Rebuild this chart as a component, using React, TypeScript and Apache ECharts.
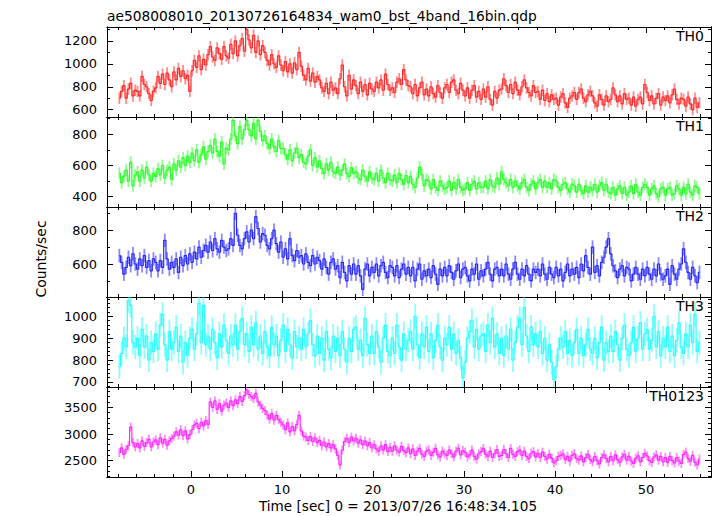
import React, { useEffect, useRef } from "react";
import * as echarts from "echarts";

const TITLE = "ae508008010_20130726164834_wam0_bst_4band_16bin.qdp";
const X_LABEL = "Time [sec] 0 = 2013/07/26 16:48:34.105";
const Y_LABEL = "Counts/sec";
const T_START = -7.875; // centre of the first 0.25 s bin
const BIN = 0.25;
const X_MIN = -9.23;
const X_MAX = 57.14;

const bandNames = ["TH0", "TH1", "TH2", "TH3", "TH0123"];
const bandColors = ["#ff2a2a", "#2aff2a", "#2a2aff", "#2affff", "#ff2aff"];
const errHalf = [50, 38, 40, 55, 85];
const yRanges = [
  [536, 1322],
  [334, 911],
  [405, 937],
  [677, 1088],
  [2195, 3880],
];
const yMajor = [
  [600, 800, 1000, 1200],
  [400, 600, 800],
  [600, 800],
  [700, 800, 900, 1000],
  [2500, 3000, 3500],
];
const yMinor = [
  [700, 900, 1100, 1300],
  [500, 700, 900],
  [500, 700, 900],
  [680, 720, 740, 760, 780, 820, 840, 860, 880, 920, 940, 960, 980, 1020, 1040, 1060, 1080],
  [2200, 2300, 2400, 2600, 2700, 2800, 2900, 3100, 3200, 3300, 3400, 3600, 3700, 3800],
];
const xMajor = [0, 10, 20, 30, 40, 50];
const xMinor = [-8, -6, -4, -2, 2, 4, 6, 8, 12, 14, 16, 18, 22, 24, 26, 28, 32, 34, 36, 38, 42, 44, 46, 48, 52, 54, 56];

const th0 = [
  700, 760, 810, 700, 780, 830, 720, 770,
  760, 720, 890, 820, 800, 740, 680, 760,
  790, 890, 830, 910, 820, 920, 860, 800,
  930, 860, 960, 890, 940, 870, 900, 760,
  940, 1030, 970, 1070, 950, 1040, 990, 1080,
  1150, 1060, 1030, 1140, 1090, 1040, 1150, 1070,
  1050, 1170, 1090, 1200, 1070, 1160, 1220, 1110,
  1300, 1210, 1140, 1250, 1100, 1200, 1080, 1160,
  1100, 1030, 990, 1080, 1000, 970, 1070, 990,
  940, 1020, 930, 1000, 920, 1010, 950, 1100,
  980, 900, 860, 960, 850, 920, 840, 890,
  860, 790, 760, 830, 740, 840, 770, 790,
  740, 870, 990, 800, 720, 900, 780, 860,
  810, 740, 840, 760, 820, 730, 830, 780,
  760, 840, 790, 860, 770, 910, 820, 770,
  790, 750, 840, 870, 820, 950, 860, 810,
  800, 740, 820, 720, 790, 840, 730, 780,
  720, 800, 740, 710, 810, 750, 700, 790,
  820, 750, 840, 860, 770, 740, 830, 770,
  720, 790, 700, 770, 810, 710, 760, 690,
  780, 710, 800, 690, 640, 760, 700, 770,
  780, 870, 810, 750, 820, 740, 840, 770,
  730, 800, 860, 790, 750, 720, 810, 750,
  760, 690, 770, 680, 740, 670, 730, 690,
  700, 640, 710, 740, 660, 620, 700, 720,
  750, 690, 750, 780, 700, 670, 730, 760,
  720, 660, 630, 730, 690, 640, 720, 670,
  690, 790, 730, 670, 720, 650, 740, 690,
  700, 640, 710, 630, 690, 710, 650, 820,
  750, 680, 720, 650, 700, 740, 640, 710,
  680, 720, 660, 730, 780, 690, 650, 700,
  690, 630, 710, 650, 600, 700, 620, 660,
];

const th1 = [
  550, 490, 530, 570, 500, 620, 470, 540,
  560, 500, 570, 520, 590, 540, 500, 550,
  530, 580, 540, 600, 520, 570, 590, 510,
  610, 570, 630, 590, 650, 600, 660, 620,
  680, 630, 700, 620, 670, 720, 640, 690,
  730, 680, 770, 690, 660, 750, 610, 710,
  700, 770, 890, 790, 740, 850, 770, 830,
  890, 830, 790, 870, 770, 890, 820, 760,
  790, 740, 710, 770, 720, 690, 760, 710,
  710, 670, 640, 700, 630, 680, 710, 650,
  670, 620, 610, 660, 700, 600, 650, 590,
  630, 580, 550, 610, 570, 620, 560, 550,
  590, 540, 570, 610, 550, 530, 585, 550,
  560, 520, 510, 570, 530, 500, 560, 520,
  510, 550, 500, 570, 520, 490, 550, 510,
  500, 540, 490, 550, 510, 480, 535, 490,
  530, 480, 460, 520, 590, 540, 470, 510,
  500, 450, 510, 460, 440, 500, 470, 450,
  460, 500, 440, 490, 450, 510, 460, 440,
  450, 490, 440, 480, 500, 450, 490, 460,
  460, 500, 450, 510, 470, 460, 520, 480,
  560, 510, 490, 470, 510, 460, 500, 470,
  450, 490, 510, 460, 440, 480, 500, 450,
  490, 510, 460, 500, 460, 490, 450, 510,
  500, 460, 440, 480, 490, 450, 430, 480,
  470, 430, 480, 440, 420, 470, 430, 460,
  440, 480, 430, 470, 490, 440, 480, 430,
  420, 460, 410, 450, 470, 420, 460, 410,
  430, 470, 420, 480, 430, 410, 460, 480,
  460, 410, 450, 470, 420, 400, 450, 460,
  410, 450, 460, 410, 420, 470, 450, 410,
  460, 420, 480, 430, 410, 470, 460, 420,
];

const th2 = [
  650, 610, 540, 580, 640, 590, 660, 600,
  570, 630, 590, 650, 580, 620, 560, 630,
  610, 560, 620, 580, 740, 630, 570, 610,
  580, 630, 550, 640, 590, 650, 600, 660,
  610, 670, 630, 700, 640, 680, 710, 670,
  730, 680, 750, 690, 670, 740, 700, 680,
  690, 750, 710, 900, 770, 710, 690, 750,
  790, 730, 800, 750, 880, 810, 730, 780,
  770, 710, 690, 750, 800, 720, 670, 730,
  640, 690, 630, 750, 650, 620, 680, 640,
  650, 600, 660, 610, 590, 650, 600, 640,
  620, 570, 630, 580, 540, 610, 630, 570,
  590, 520, 610, 550, 500, 590, 540, 600,
  540, 590, 530, 450, 570, 600, 530, 580,
  550, 600, 530, 590, 610, 550, 520, 590,
  580, 530, 590, 520, 570, 600, 540, 580,
  530, 580, 500, 570, 600, 510, 560, 530,
  570, 520, 590, 540, 480, 570, 530, 580,
  530, 590, 550, 510, 560, 600, 520, 570,
  580, 530, 500, 570, 540, 600, 510, 560,
  530, 570, 610, 540, 500, 570, 580, 530,
  570, 530, 600, 540, 510, 570, 610, 540,
  510, 570, 530, 590, 540, 500, 570, 550,
  570, 530, 600, 540, 510, 580, 540, 520,
  580, 530, 570, 500, 550, 600, 530, 570,
  540, 580, 520, 600, 560, 650, 580, 540,
  700, 550, 590, 530, 610, 640, 700, 750,
  660, 590, 560, 520, 570, 590, 530, 580,
  570, 500, 540, 580, 540, 510, 570, 530,
  580, 540, 510, 570, 530, 600, 540, 510,
  530, 570, 480, 590, 540, 510, 570, 600,
  690, 610, 550, 510, 580, 530, 490, 550,
];

const th3 = [
  770, 830, 900, 860, 1070, 1050, 880, 860,
  900, 820, 940, 860, 910, 800, 880, 840,
  920, 850, 960, 1010, 870, 800, 930, 850,
  880, 950, 840, 910, 790, 880, 820, 900,
  940, 850, 920, 1060, 880, 1050, 870, 910,
  850, 940, 880, 810, 920, 860, 960, 890,
  830, 910, 870, 960, 850, 930, 990, 870,
  920, 840, 950, 870, 970, 850, 910, 830,
  930, 860, 820, 950, 870, 910, 820, 890,
  960, 840, 940, 870, 810, 930, 860, 900,
  850, 940, 860, 920, 980, 870, 820, 910,
  830, 900, 800, 930, 850, 810, 910, 840,
  900, 820, 930, 850, 790, 900, 840, 940,
  950, 850, 890, 820, 990, 870, 830, 910,
  830, 930, 860, 790, 900, 960, 840, 820,
  900, 830, 960, 860, 800, 920, 850, 890,
  930, 850, 1000, 870, 810, 920, 860, 950,
  840, 920, 810, 890, 960, 860, 800, 900,
  870, 950, 850, 920, 830, 890, 810, 720,
  790, 900, 930, 980, 860, 940, 850, 910,
  920, 840, 960, 880, 990, 860, 920, 830,
  900, 820, 910, 850, 940, 800, 880, 950,
  990, 870, 1040, 910, 840, 950, 870, 920,
  860, 930, 830, 900, 800, 870, 790, 710,
  770, 850, 900, 860, 930, 830, 890, 820,
  880, 940, 830, 900, 820, 870, 940, 850,
  830, 900, 810, 880, 950, 800, 880, 840,
  910, 840, 930, 870, 800, 900, 960, 850,
  820, 880, 950, 840, 900, 970, 850, 920,
  940, 850, 890, 1000, 860, 930, 820, 900,
  860, 950, 840, 910, 820, 890, 970, 860,
  830, 920, 860, 960, 880, 1010, 840, 880,
];

const th0123 = [
  2650, 2740, 2620, 2710, 2780, 3130, 2840, 2760,
  2820, 2740, 2870, 2770, 2840, 2900, 2760, 2850,
  2890, 2800, 2930, 2830, 2900, 2790, 2870, 2920,
  2960, 3040, 2980, 3080, 2970, 3060, 2910, 2990,
  3080, 3170, 3200, 3100, 3220, 3150, 3250, 3180,
  3600, 3500, 3620, 3460, 3570, 3430, 3540, 3580,
  3500, 3620, 3530, 3640, 3570, 3700, 3610, 3720,
  3820, 3740, 3700, 3660, 3760, 3600, 3540, 3480,
  3440, 3360, 3280, 3380, 3260, 3350, 3270, 3220,
  3170, 3080, 3210, 3040, 3140, 3060, 3180, 3350,
  3060, 2960, 2940, 2880, 2950, 2860, 2930, 2840,
  2880, 2780, 2850, 2760, 2820, 2740, 2800, 2720,
  2600, 2420, 2700, 2860, 2920, 2840, 2940, 2870,
  2920, 2830, 2890, 2800, 2870, 2780, 2840, 2740,
  2800, 2720, 2680, 2780, 2700, 2800, 2670, 2750,
  2680, 2780, 2700, 2660, 2770, 2690, 2650, 2740,
  2630, 2720, 2600, 2680, 2730, 2620, 2580, 2680,
  2700, 2600, 2660, 2730, 2610, 2570, 2680, 2630,
  2600, 2700, 2630, 2570, 2680, 2730, 2610, 2690,
  2660, 2570, 2610, 2700, 2580, 2530, 2630, 2670,
  2730, 2620, 2580, 2680, 2560, 2630, 2710, 2580,
  2600, 2710, 2630, 2560, 2730, 2620, 2580, 2670,
  2700, 2600, 2680, 2580, 2540, 2640, 2670, 2570,
  2640, 2560, 2660, 2580, 2530, 2620, 2550, 2460,
  2500, 2580, 2600, 2630, 2520, 2580, 2490, 2600,
  2630, 2540, 2510, 2590, 2480, 2560, 2620, 2520,
  2480, 2580, 2500, 2440, 2560, 2610, 2540, 2480,
  2580, 2500, 2610, 2520, 2470, 2570, 2620, 2510,
  2580, 2490, 2450, 2550, 2590, 2480, 2560, 2640,
  2590, 2500, 2470, 2570, 2610, 2510, 2580, 2480,
  2560, 2470, 2580, 2500, 2460, 2560, 2490, 2450,
  2620, 2660, 2540, 2490, 2600, 2470, 2420, 2530,
];

const bandData = [th0, th1, th2, th3, th0123];

// layout (pixels)
const CHART_W = 717;
const CHART_H = 516;
const GRID_LEFT = 107;
const GRID_RIGHT = 6;
const PANEL_TOPS = [27, 117, 207, 297, 387];
const PANEL_H = 90;
const FONT = "DejaVu Sans";

function buildOption() {
  const grids: any[] = [];
  const xAxes: any[] = [];
  const yAxes: any[] = [];
  const series: any[] = [];
  const graphics: any[] = [];

  const axisLineStyle = { color: "#000", width: 1 };

  bandNames.forEach((name, i) => {
    grids.push({
      left: GRID_LEFT,
      right: GRID_RIGHT,
      top: PANEL_TOPS[i],
      height: PANEL_H,
      show: false,
    });
    const isLast = i === bandNames.length - 1;
    const mkX = (pos: string, values: number[], len: number, label: boolean) => ({
      type: "value",
      gridIndex: i,
      position: pos,
      min: X_MIN,
      max: X_MAX,
      axisLine: { show: true, onZero: false, lineStyle: axisLineStyle },
      splitLine: { show: false },
      minorTick: { show: false },
      axisTick: { show: true, inside: true, length: len, customValues: values, lineStyle: axisLineStyle },
      axisLabel: {
        show: label,
        customValues: values,
        margin: 6,
        color: "#000",
        fontSize: 13,
        fontFamily: FONT,
        formatter: (v: number) => String(v),
      },
    });
    xAxes.push(mkX("bottom", xMajor, 6, isLast));
    xAxes.push(mkX("bottom", xMinor, 3, false));
    xAxes.push(mkX("top", xMajor, 6, false));
    xAxes.push(mkX("top", xMinor, 3, false));

    const [ymin, ymax] = yRanges[i];
    const mkY = (pos: string, values: number[], len: number, label: boolean) => ({
      type: "value",
      gridIndex: i,
      position: pos,
      min: ymin,
      max: ymax,
      axisLine: { show: true, onZero: false, lineStyle: axisLineStyle },
      splitLine: { show: false },
      minorTick: { show: false },
      axisTick: { show: true, inside: true, length: len, customValues: values, lineStyle: axisLineStyle },
      axisLabel: {
        show: label,
        customValues: values,
        margin: 10,
        color: "#000",
        fontSize: 13,
        fontFamily: FONT,
        formatter: (v: number) => String(v),
      },
    });
    yAxes.push(mkY("left", yMajor[i], 6, true));
    yAxes.push(mkY("left", yMinor[i], 3, false));
    yAxes.push(mkY("right", yMajor[i], 6, false));
    yAxes.push(mkY("right", yMinor[i], 3, false));

    const color = bandColors[i];
    const err = errHalf[i];
    const pts = bandData[i].map((v, k) => [T_START + BIN * k, v]);
    const errPts = bandData[i].map((v, k) => [T_START + BIN * k, v, err]);

    series.push({
      type: "custom",
      name: name + " error",
      xAxisIndex: 4 * i,
      yAxisIndex: 4 * i,
      clip: true,
      data: errPts,
      renderItem: (params: any, api: any) => {
        const x = api.value(0);
        const y = api.value(1);
        const e = api.value(2);
        const p1 = api.coord([x, y - e]);
        const p2 = api.coord([x, y + e]);
        return {
          type: "line",
          shape: { x1: p1[0], y1: p1[1], x2: p2[0], y2: p2[1] },
          style: { stroke: color, lineWidth: 1.8, opacity: 0.55 },
        };
      },
      silent: true,
      z: 1,
    });
    series.push({
      type: "line",
      name,
      xAxisIndex: 4 * i,
      yAxisIndex: 4 * i,
      step: "middle",
      data: pts,
      showSymbol: false,
      symbol: "none",
      lineStyle: { color, width: 1.2 },
      itemStyle: { color },
      clip: true,
      silent: true,
      z: 2,
    });

    graphics.push({
      type: "text",
      x: CHART_W - 13,
      y: PANEL_TOPS[i] + 2,
      style: {
        text: name,
        fill: "#000",
        fontSize: 14,
        fontFamily: FONT,
        textAlign: "right",
        textVerticalAlign: "top",
        align: "right",
        verticalAlign: "top",
      },
      z: 10,
    });
  });

  graphics.push({
    type: "text",
    x: 107,
    y: 9,
    style: {
      text: TITLE,
      fill: "#000",
      fontSize: 13.8,
      fontFamily: FONT,
      textAlign: "left",
      textVerticalAlign: "top",
      align: "left",
      verticalAlign: "top",
    },
  });
  graphics.push({
    type: "text",
    x: 398,
    y: 506,
    style: {
      text: X_LABEL,
      fill: "#000",
      fontSize: 13.6,
      fontFamily: FONT,
      textAlign: "center",
      textVerticalAlign: "middle",
      align: "center",
      verticalAlign: "middle",
    },
  });
  graphics.push({
    type: "text",
    x: 41,
    y: 259,
    rotation: Math.PI / 2,
    style: {
      text: Y_LABEL,
      fill: "#000",
      fontSize: 14,
      fontFamily: FONT,
      textAlign: "center",
      textVerticalAlign: "middle",
      align: "center",
      verticalAlign: "middle",
    },
  });

  return {
    animation: false,
    backgroundColor: "#ffffff",
    grid: grids,
    xAxis: xAxes,
    yAxis: yAxes,
    series,
    graphic: graphics,
  };
}

export default function App() {
  const ref = useRef<HTMLDivElement>(null);
  useEffect(() => {
    if (!ref.current) return;
    const chart = echarts.init(ref.current, undefined, { renderer: "svg" });
    chart.setOption(buildOption() as any);
    return () => {
      chart.dispose();
    };
  }, []);
  return (
    <div
      ref={ref}
      style={{ position: "absolute", left: 0, top: 0, width: CHART_W, height: CHART_H, background: "#fff" }}
    />
  );
}
